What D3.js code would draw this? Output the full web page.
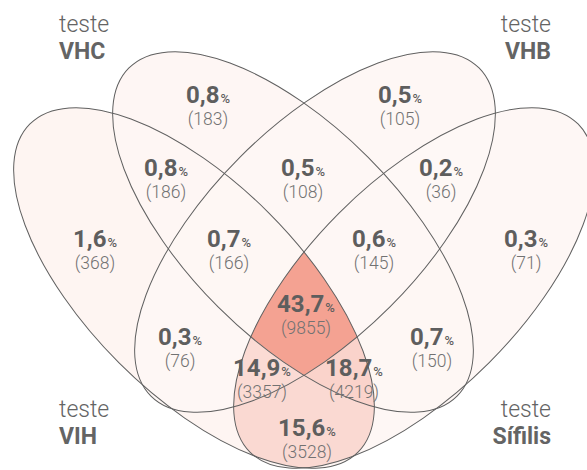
<!DOCTYPE html>
<html>
<head>
<meta charset="utf-8">
<script src="https://cdn.jsdelivr.net/npm/d3@7"></script>
<style>
  html, body { margin: 0; padding: 0; background: #fff; }
  svg { display: block; }
</style>
</head>
<body>
<svg id="chart" width="587" height="470"></svg>
<script>
// ---------- data ----------
const sets = ["VIH", "VHC", "VHB", "Sífilis"];
const setLabelPrefix = ["teste", "teste", "teste", "teste"];
const regionSets = [
  ["VIH"], ["VHC"], ["VHB"], ["Sífilis"],
  ["VIH", "VHC"], ["VHC", "VHB"], ["VHB", "Sífilis"], ["VIH", "VHB"], ["VHC", "Sífilis"],
  ["VIH", "VHC", "VHB"], ["VHC", "VHB", "Sífilis"], ["VIH", "VHC", "VHB", "Sífilis"],
  ["VIH", "VHB", "Sífilis"], ["VIH", "VHC", "Sífilis"], ["VIH", "Sífilis"]
];
const regionPercent = ["1,6", "0,8", "0,5", "0,3", "0,8", "0,5", "0,2", "0,3", "0,7", "0,7", "0,6", "43,7", "14,9", "18,7", "15,6"];
const regionCount = [368, 183, 105, 71, 186, 108, 36, 76, 150, 166, 145, 9855, 3357, 4219, 3528];

// ---------- layout (geometry, not data) ----------
const ellipses = {
  "VIH":     {cx: 194, cy: 288, rx: 232, ry: 106, rot: 45},
  "VHC":     {cx: 293, cy: 232, rx: 232, ry: 106, rot: 45},
  "VHB":     {cx: 315, cy: 232, rx: 232, ry: 106, rot: -45},
  "Sífilis": {cx: 414, cy: 288, rx: 232, ry: 106, rot: -45}
};
const setLabelLayout = {
  "VIH":     {x: 59,  y: 417, anchor: "start"},
  "VHC":     {x: 59,  y: 32,  anchor: "start"},
  "VHB":     {x: 551, y: 32,  anchor: "end"},
  "Sífilis": {x: 551, y: 417, anchor: "end"}
};
const regionLabelPos = [
  [95, 247], [208, 103], [400, 103], [526, 247],
  [166, 176], [303, 176], [441, 176], [180, 345], [432, 345],
  [229, 247], [374, 247], [306, 312],
  [262, 376], [354, 376], [307, 436]
];

const W = 587, H = 470;
const svg = d3.select("#chart");
const defs = svg.append("defs");

const pct = d3.map(regionPercent, s => +s.replace(",", "."));
const color = d3.scaleLinear()
  .domain([0, d3.max(pct)])
  .range(["#fef8f6", "#f4a292"])
  .interpolate(d3.interpolateRgb);

function ellipseAttrs(sel, e) {
  sel.attr("cx", e.cx).attr("cy", e.cy).attr("rx", e.rx).attr("ry", e.ry)
     .attr("transform", `rotate(${e.rot},${e.cx},${e.cy})`);
}

// clip paths per set
sets.forEach((s, i) => {
  defs.append("clipPath").attr("id", "clip" + i)
    .append("ellipse").call(ellipseAttrs, ellipses[s]);
});

// regions
const regionsG = svg.append("g");
regionSets.forEach((rs, ri) => {
  const excluded = sets.filter(s => !rs.includes(s));
  const mask = defs.append("mask").attr("id", "mask" + ri)
    .attr("maskUnits", "userSpaceOnUse").attr("x", 0).attr("y", 0).attr("width", W).attr("height", H);
  mask.append("rect").attr("width", W).attr("height", H).attr("fill", "#fff");
  excluded.forEach(s => mask.append("ellipse").call(ellipseAttrs, ellipses[s]).attr("fill", "#000"));
  let g = regionsG;
  rs.forEach(s => { g = g.append("g").attr("clip-path", `url(#clip${sets.indexOf(s)})`); });
  g.append("rect").attr("width", W).attr("height", H)
    .attr("mask", `url(#mask${ri})`)
    .attr("fill", color(pct[ri]));
});

// outlines
svg.append("g").selectAll("ellipse").data(sets).join("ellipse")
  .each(function(s) { d3.select(this).call(ellipseAttrs, ellipses[s]); })
  .attr("fill", "none").attr("stroke", "#606060").attr("stroke-width", 1);

// region labels
const lab = svg.append("g").attr("font-family", "Roboto, 'DejaVu Sans', sans-serif").attr("text-anchor", "middle");
regionSets.forEach((rs, ri) => {
  const [x, y] = regionLabelPos[ri];
  const t = lab.append("text").attr("x", x).attr("y", y).attr("fill", "#5e5e5e");
  t.append("tspan").attr("font-size", 24).attr("font-weight", 700).text(regionPercent[ri]);
  t.append("tspan").attr("font-size", 13).attr("font-weight", 500).attr("dx", 1).text("%");
  lab.append("text").attr("x", x).attr("y", y + 22).attr("fill", "#727272")
    .attr("font-size", 17.5).attr("font-weight", 300).text(`(${regionCount[ri]})`);
});

// set labels
const sl = svg.append("g").attr("font-family", "Roboto, 'DejaVu Sans', sans-serif").attr("fill", "#646464");
sets.forEach((s, i) => {
  const L = setLabelLayout[s];
  sl.append("text").attr("x", L.x).attr("y", L.y).attr("text-anchor", L.anchor)
    .attr("font-size", 23).attr("font-weight", 300).text(setLabelPrefix[i]);
  sl.append("text").attr("x", L.x).attr("y", L.y + 27).attr("text-anchor", L.anchor)
    .attr("font-size", 23).attr("font-weight", 700).text(s);
});
</script>
</body>
</html>
